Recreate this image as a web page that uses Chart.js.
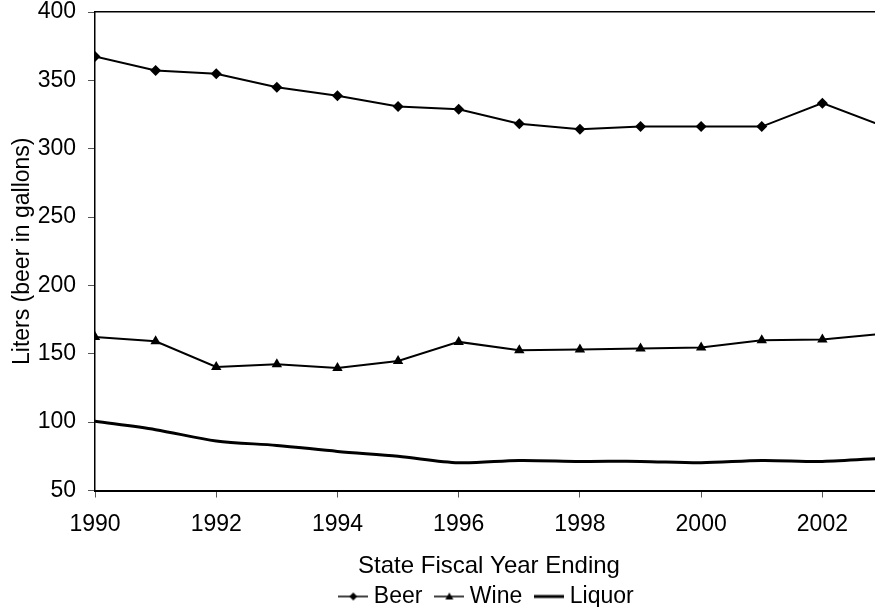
<!DOCTYPE html>
<html>
<head>
<meta charset="utf-8">
<script src="https://cdn.jsdelivr.net/npm/chart.js@4/dist/chart.umd.min.js"></script>
<style>
  html, body { margin: 0; padding: 0; background: #fff; overflow: hidden; }
  #wrap { width: 875px; height: 607px; overflow: hidden; position: relative; }
  canvas { display: block; }
</style>
</head>
<body>
<div id="wrap"><canvas id="c" width="890" height="607"></canvas></div>
<script>
// Fiscal years shown on the x axis
const years = [1990, 1991, 1992, 1993, 1994, 1995, 1996, 1997, 1998, 1999, 2000, 2001, 2002, 2003];
// Per-capita consumption (beer in gallons, wine and liquor in liters)
const beer   = [367.5, 357.2, 354.8, 345.0, 338.7, 330.8, 328.9, 318.2, 314.3, 316.2, 316.2, 316.2, 333.3, 316.5];
const wine   = [162.3, 159.2, 140.4, 142.4, 139.6, 144.8, 158.7, 152.6, 153.1, 153.8, 154.6, 159.9, 160.4, 164.6];
const liquor = [100.6, 94.5, 86.2, 83.0, 78.6, 75.0, 70.3, 72.0, 71.3, 71.3, 70.3, 72.0, 71.3, 73.6];
const seriesNames = ['Beer', 'Wine', 'Liquor'];
const yTicks = [50, 100, 150, 200, 250, 300, 350, 400];

const FONT = 'Liberation Sans, Arial, sans-serif';
Chart.defaults.color = '#000';
Chart.defaults.font.family = FONT;

function pts(values) {
  return years.map((yr, i) => ({ x: yr, y: values[i] }));
}

// Legend swatches: a short line with the series marker in the middle
function swatch(kind, lw) {
  const c = document.createElement('canvas');
  c.width = 30; c.height = 14;
  const g = c.getContext('2d');
  g.strokeStyle = '#000'; g.fillStyle = '#000';
  g.lineWidth = lw;
  g.beginPath(); g.moveTo(0, 7); g.lineTo(30, 7); g.stroke();
  if (kind === 'diamond') {
    g.beginPath(); g.moveTo(15, 3); g.lineTo(19, 7); g.lineTo(15, 11); g.lineTo(11, 7); g.closePath(); g.fill();
  } else if (kind === 'triangle') {
    g.beginPath(); g.moveTo(15, 3); g.lineTo(19, 10); g.lineTo(11, 10); g.closePath(); g.fill();
  }
  return c;
}
const swatches = [swatch('diamond', 1.5), swatch('triangle', 1.5), swatch('none', 3)];

const chart = new Chart(document.getElementById('c'), {
  type: 'line',
  data: {
    datasets: [
      {
        label: seriesNames[0], data: pts(beer),
        borderColor: '#000', backgroundColor: '#000', borderWidth: 2,
        pointStyle: 'rectRot', pointRadius: 5.5, pointBorderWidth: 0,
        pointBackgroundColor: '#000', tension: 0
      },
      {
        label: seriesNames[1], data: pts(wine),
        borderColor: '#000', backgroundColor: '#000', borderWidth: 2,
        pointStyle: 'triangle', pointRadius: 6, pointBorderWidth: 0,
        pointBackgroundColor: '#000', tension: 0
      },
      {
        label: seriesNames[2], data: pts(liquor),
        borderColor: '#000', backgroundColor: '#000', borderWidth: 3,
        pointRadius: 0, tension: 0.3
      }
    ]
  },
  options: {
    responsive: false,
    animation: false,
    events: [],
    layout: { padding: { left: 0, right: 7, top: 12, bottom: -11 } },
    plugins: {
      tooltip: { enabled: false },
      legend: {
        position: 'bottom',
        fullSize: false,
        labels: {
          usePointStyle: true,
          pointStyleWidth: 18,
          padding: 18,
          font: { size: 23, family: FONT },
          color: '#000',
          generateLabels(ch) {
            const items = Chart.defaults.plugins.legend.labels.generateLabels(ch);
            items.forEach((it, i) => { it.pointStyle = swatches[i]; it.lineWidth = 0; });
            return items;
          }
        }
      }
    },
    scales: {
      x: {
        type: 'linear', position: 'bottom',
        min: 1990, max: 2003,
        afterFit(s) { s.height = 76.5; },
        grid: { display: true, drawOnChartArea: false, drawTicks: true, tickLength: 7, tickColor: '#555', tickWidth: 1 },
        border: { display: true, color: '#000', width: 2 },
        ticks: {
          stepSize: 2, includeBounds: false, autoSkip: false, maxRotation: 0,
          padding: 15, color: '#000',
          font: { size: 23, family: FONT, lineHeight: 1.1 },
          callback: v => String(v)
        },
        title: {
          display: true, text: 'State Fiscal Year Ending', color: '#000',
          font: { size: 24, family: FONT, lineHeight: 1.2 },
          padding: { top: 0, bottom: -14 }
        }
      },
      xTop: {
        type: 'linear', position: 'top', min: 1990, max: 2003,
        afterFit(s) { s.height = 0; },
        ticks: { display: false },
        grid: { display: false, drawTicks: false },
        border: { display: true, color: '#000', width: 1.5 }
      },
      y: {
        type: 'linear', min: 50, max: 400,
        afterFit(s) { s.width = 95; s.paddingTop = 0; s.paddingBottom = 0; },
        afterBuildTicks(s) { s.ticks = yTicks.map(v => ({ value: v })); },
        grid: { display: true, drawOnChartArea: false, drawTicks: true, tickLength: 7, tickColor: '#555', tickWidth: 1 },
        border: { display: true, color: '#000', width: 1.5 },
        ticks: {
          padding: 12, color: '#000',
          font: { size: 23, family: FONT, lineHeight: 0.5 },
          callback: v => String(v)
        },
        title: {
          display: true, text: 'Liters (beer in gallons)', color: '#000',
          font: { size: 23, family: FONT, lineHeight: 1.2 },
          padding: { top: 9, bottom: 0 }
        }
      }
    }
  }
});
</script>
</body>
</html>
